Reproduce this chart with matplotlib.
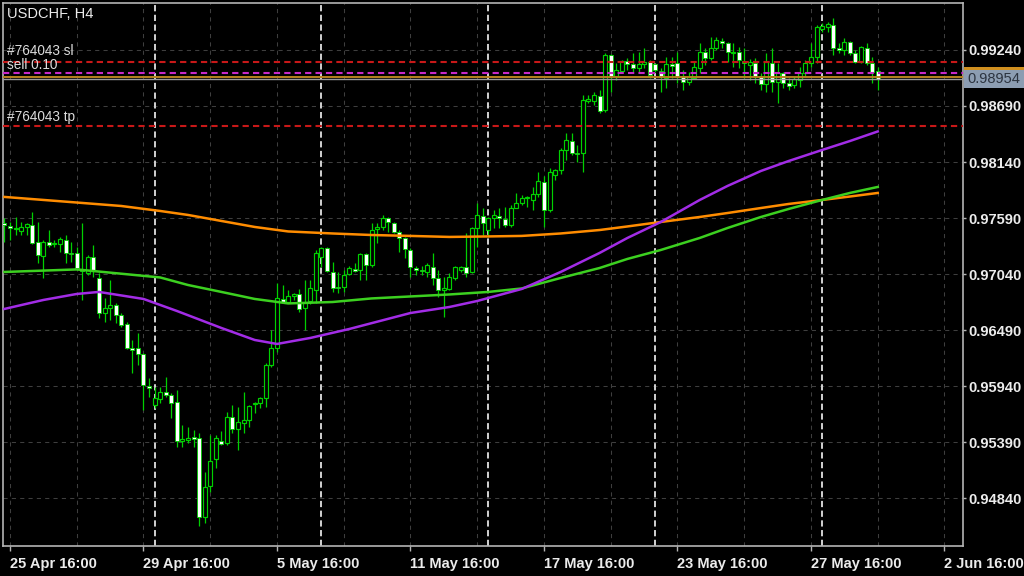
import matplotlib
matplotlib.use("Agg")
import matplotlib.pyplot as plt
import numpy as np
from matplotlib.patches import Rectangle

plt.rcParams['font.family'] = ['Liberation Sans', 'DejaVu Sans']

# USDCHF H4, bar 0 = 25 Apr 16:00, first visible candle is bar -1
first_bar = -1
opens = [0.97541, 0.97512, 0.97482, 0.97463, 0.97502, 0.97521, 0.97355, 0.97217, 0.97355, 0.97335,
         0.97335, 0.97374, 0.97247, 0.97247, 0.97089, 0.97050, 0.97207, 0.97001, 0.96657, 0.96706,
         0.96736, 0.96638, 0.96549, 0.96314, 0.96314, 0.96255, 0.95940, 0.95754, 0.95813, 0.95882,
         0.95852, 0.95783, 0.95400, 0.95410, 0.95440, 0.95430, 0.94654, 0.94958, 0.95224, 0.95400,
         0.95381, 0.95636, 0.95518, 0.95577, 0.95607, 0.95764, 0.95774, 0.95823, 0.96147, 0.96314,
         0.96795, 0.96765, 0.96824, 0.96844, 0.96706, 0.96775, 0.96883, 0.97207, 0.97296, 0.97060,
         0.96913, 0.96913, 0.97040, 0.97089, 0.97080, 0.97237, 0.97129, 0.97482, 0.97502, 0.97590,
         0.97541, 0.97453, 0.97394, 0.97276, 0.97099, 0.97080, 0.97060, 0.97109, 0.97001, 0.96883,
         0.96893, 0.97001, 0.97080, 0.97109, 0.97060, 0.97492, 0.97610, 0.97472, 0.97590, 0.97610,
         0.97580, 0.97521, 0.97688, 0.97738, 0.97787, 0.97767, 0.97826, 0.97944, 0.97669, 0.98012,
         0.98062, 0.98258, 0.98346, 0.98229, 0.98229, 0.98739, 0.98739, 0.98788, 0.98651, 0.99191,
         0.98985, 0.99034, 0.99132, 0.99103, 0.99063, 0.99103, 0.99122, 0.99103, 0.99034, 0.98965,
         0.99103, 0.99112, 0.98985, 0.98926, 0.98965, 0.99063, 0.99220, 0.99161, 0.99260, 0.99328,
         0.99309, 0.99211, 0.99220, 0.99132, 0.99093, 0.99112, 0.98975, 0.98906, 0.99112, 0.98926,
         0.99014, 0.98916, 0.98896, 0.98945, 0.99014, 0.99112, 0.99171, 0.99446, 0.99466, 0.99485,
         0.99260, 0.99240, 0.99319, 0.99211, 0.99122, 0.99260, 0.99112, 0.99034]
highs = [0.97590, 0.97551, 0.97600, 0.97551, 0.97541, 0.97649, 0.97551, 0.97374, 0.97472, 0.97374,
         0.97404, 0.97423, 0.97355, 0.97305, 0.97541, 0.97227, 0.97325, 0.97050, 0.96805, 0.96981,
         0.96756, 0.96657, 0.96569, 0.96392, 0.96461, 0.96265, 0.96019, 0.95931, 0.95931, 0.96029,
         0.95872, 0.95901, 0.95557, 0.95538, 0.95508, 0.95479, 0.95096, 0.95459, 0.95459, 0.95499,
         0.95685, 0.95754, 0.95734, 0.95882, 0.95754, 0.95783, 0.95832, 0.96166, 0.96490, 0.96952,
         0.96932, 0.96883, 0.96854, 0.96893, 0.96981, 0.96981, 0.97276, 0.97305, 0.97305, 0.97158,
         0.97060, 0.97080, 0.97119, 0.97148, 0.97247, 0.97247, 0.97541, 0.97541, 0.97620, 0.97600,
         0.97551, 0.97472, 0.97404, 0.97296, 0.97119, 0.97119, 0.97148, 0.97247, 0.97080, 0.97011,
         0.97050, 0.97119, 0.97119, 0.97443, 0.97502, 0.97738, 0.97688, 0.97600, 0.97669, 0.97688,
         0.97698, 0.97718, 0.97836, 0.97816, 0.97806, 0.97895, 0.98042, 0.98003, 0.98081, 0.98071,
         0.98278, 0.98425, 0.98425, 0.98307, 0.98798, 0.98798, 0.98828, 0.98847, 0.99211, 0.99201,
         0.99112, 0.99142, 0.99161, 0.99211, 0.99220, 0.99260, 0.99142, 0.99112, 0.99063, 0.99171,
         0.99171, 0.99220, 0.99044, 0.99024, 0.99122, 0.99309, 0.99260, 0.99368, 0.99368, 0.99358,
         0.99319, 0.99309, 0.99269, 0.99260, 0.99152, 0.99161, 0.99014, 0.99211, 0.99260, 0.99112,
         0.99024, 0.98965, 0.98975, 0.99073, 0.99142, 0.99309, 0.99485, 0.99505, 0.99515, 0.99554,
         0.99309, 0.99358, 0.99328, 0.99240, 0.99279, 0.99309, 0.99171, 0.99073]
lows = [0.97355, 0.97374, 0.97423, 0.97423, 0.97423, 0.97335, 0.97148, 0.97001, 0.97305, 0.97305,
        0.97256, 0.97148, 0.97158, 0.97080, 0.96785, 0.97030, 0.97011, 0.96608, 0.96569, 0.96589,
        0.96559, 0.96520, 0.96304, 0.96068, 0.96147, 0.95705, 0.95832, 0.95724, 0.95774, 0.95832,
        0.95626, 0.95341, 0.95341, 0.95381, 0.95341, 0.94566, 0.94595, 0.94900, 0.95135, 0.95361,
        0.95361, 0.95479, 0.95312, 0.95479, 0.95538, 0.95675, 0.95724, 0.95734, 0.96127, 0.96274,
        0.96756, 0.96756, 0.96785, 0.96667, 0.96490, 0.96746, 0.96756, 0.97109, 0.97060, 0.96864,
        0.96854, 0.96864, 0.97030, 0.97060, 0.96981, 0.96981, 0.97109, 0.97345, 0.97472, 0.97453,
        0.97443, 0.97256, 0.97197, 0.97011, 0.97030, 0.97030, 0.97011, 0.96932, 0.96814, 0.96618,
        0.96883, 0.96981, 0.97060, 0.97011, 0.97050, 0.97305, 0.97423, 0.97404, 0.97492, 0.97492,
        0.97502, 0.97502, 0.97688, 0.97718, 0.97698, 0.97669, 0.97796, 0.97502, 0.97649, 0.97963,
        0.98022, 0.98160, 0.98209, 0.98140, 0.98042, 0.98720, 0.98700, 0.98621, 0.98631, 0.98828,
        0.98945, 0.99024, 0.99044, 0.99024, 0.99024, 0.99063, 0.98965, 0.99024, 0.98828, 0.98867,
        0.98965, 0.98916, 0.98847, 0.98896, 0.98965, 0.99014, 0.99093, 0.99142, 0.99240, 0.99260,
        0.99122, 0.99073, 0.99063, 0.98965, 0.98945, 0.98916, 0.98847, 0.98828, 0.98828, 0.98720,
        0.98867, 0.98847, 0.98867, 0.98877, 0.98975, 0.99073, 0.99112, 0.99417, 0.99417, 0.99191,
        0.99211, 0.99191, 0.99191, 0.99112, 0.99112, 0.99093, 0.98916, 0.98847]
closes = [0.97521, 0.97492, 0.97492, 0.97502, 0.97531, 0.97345, 0.97227, 0.97355, 0.97325, 0.97345,
          0.97384, 0.97247, 0.97237, 0.97099, 0.97070, 0.97207, 0.97080, 0.96657, 0.96706, 0.96736,
          0.96638, 0.96539, 0.96314, 0.96294, 0.96255, 0.95950, 0.95921, 0.95823, 0.95882, 0.95852,
          0.95774, 0.95400, 0.95420, 0.95430, 0.95420, 0.94654, 0.94949, 0.95204, 0.95430, 0.95371,
          0.95636, 0.95518, 0.95587, 0.95607, 0.95744, 0.95774, 0.95823, 0.96147, 0.96314, 0.96805,
          0.96765, 0.96824, 0.96844, 0.96697, 0.96756, 0.96903, 0.97247, 0.97296, 0.97070, 0.96903,
          0.96903, 0.97030, 0.97099, 0.97070, 0.97237, 0.97129, 0.97472, 0.97502, 0.97590, 0.97551,
          0.97453, 0.97394, 0.97286, 0.97109, 0.97080, 0.97070, 0.97129, 0.97001, 0.96883, 0.96903,
          0.97011, 0.97109, 0.97109, 0.97050, 0.97492, 0.97620, 0.97541, 0.97590, 0.97620, 0.97590,
          0.97521, 0.97688, 0.97738, 0.97787, 0.97797, 0.97826, 0.97954, 0.97669, 0.98042, 0.98062,
          0.98258, 0.98356, 0.98229, 0.98219, 0.98749, 0.98759, 0.98798, 0.98641, 0.99191, 0.98985,
          0.99044, 0.99132, 0.99103, 0.99063, 0.99103, 0.99122, 0.98994, 0.99044, 0.98975, 0.99103,
          0.99083, 0.98975, 0.98926, 0.98975, 0.99073, 0.99220, 0.99161, 0.99260, 0.99338, 0.99309,
          0.99220, 0.99220, 0.99142, 0.99112, 0.99122, 0.98975, 0.98906, 0.99122, 0.98926, 0.99014,
          0.98916, 0.98886, 0.98955, 0.99014, 0.99112, 0.99171, 0.99466, 0.99476, 0.99495, 0.99260,
          0.99240, 0.99319, 0.99211, 0.99122, 0.99269, 0.99112, 0.99024, 0.98954]

# moving averages (bar index, price)
orange_bars = [-1, 12, 20, 27, 32, 38, 44, 50, 58, 65, 72, 79, 86, 92, 99, 106, 111, 117,
               124, 129, 135, 140, 146, 151, 156]
ma_orange = [0.97797, 0.97742, 0.97708, 0.97659, 0.97620, 0.97561, 0.97502, 0.97458, 0.97438,
             0.97423, 0.97414, 0.97404, 0.97409, 0.97414, 0.97438, 0.97472, 0.97507, 0.97551,
             0.97600, 0.97639, 0.97688, 0.97728, 0.97767, 0.97801, 0.97836]
green_bars = [-1, 12, 27, 32, 38, 44, 50, 58, 65, 79, 86, 92, 99, 106, 111, 117, 124, 129,
              135, 140, 146, 151, 156]
ma_green = [0.97060, 0.97085, 0.97006, 0.96932, 0.96864, 0.96795, 0.96751, 0.96765, 0.96800,
            0.96839, 0.96864, 0.96898, 0.97001, 0.97099, 0.97188, 0.97276, 0.97394, 0.97492,
            0.97600, 0.97679, 0.97767, 0.97836, 0.97895]
purple_bars = [-1, 6, 12, 16, 24, 30, 38, 44, 48, 54, 61, 72, 79, 84, 92, 99, 106, 111, 117,
               124, 129, 135, 140, 146, 151, 156]
ma_purple = [0.96697, 0.96785, 0.96844, 0.96864, 0.96795, 0.96677, 0.96510, 0.96392, 0.96353,
             0.96412, 0.96500, 0.96657, 0.96716, 0.96775, 0.96893, 0.97060, 0.97247, 0.97394,
             0.97551, 0.97767, 0.97905, 0.98052, 0.98150, 0.98258, 0.98346, 0.98440]

price_ticks = [0.99240, 0.98690, 0.98140, 0.97590, 0.97040, 0.96490, 0.95940, 0.95390, 0.94840]
time_bars = [0, 24, 48, 72, 96, 120, 144, 168]
time_labels = ['25 Apr 16:00', '29 Apr 16:00', '5 May 16:00', '11 May 16:00',
               '17 May 16:00', '23 May 16:00', '27 May 16:00', '2 Jun 16:00']
week_bars = [26, 56, 86, 116, 146]

sl_price = 0.99119
open_price = 0.99017
tp_price = 0.98497
bid = 0.98954
ask = 0.98970

GREEN = '#00d000'
FRAME = '#b4b4b4'
LABEL = '#ececec'

fig = plt.figure(figsize=(10.24, 5.76), dpi=100, facecolor='black')
ax = fig.add_axes([3 / 1024, 30 / 576, 960 / 1024, 543 / 576], facecolor='black')

o = np.array(opens)
h = np.array(highs)
l = np.array(lows)
c = np.array(closes)
x = np.arange(len(o)) + first_bar
up = c >= o
body_lo = np.minimum(o, c)
body_h = np.maximum(np.abs(c - o), 0.00002)

# grid + weekly separators
for p in price_ticks:
    ax.axhline(p, color='#3e3e3e', lw=0.75, ls=(0, (4, 4)), zorder=1)
for b in range(0, 169, 12):
    ax.axvline(b, color='#3e3e3e', lw=0.75, ls=(0, (4, 4)), zorder=1)
for b in week_bars:
    ax.axvline(b, color='#d2d2d2', lw=1.4, ls=(0, (3.2, 1.8)), zorder=2)

# candles
ax.vlines(x, l, h, color=GREEN, lw=0.9, zorder=3)
ax.bar(x[up], body_h[up], bottom=body_lo[up], width=0.72, facecolor='black',
       edgecolor=GREEN, lw=0.85, zorder=4)
ax.bar(x[~up], body_h[~up], bottom=body_lo[~up], width=0.72, facecolor='white',
       edgecolor=GREEN, lw=0.6, zorder=4)

# moving averages
ax.plot(orange_bars, ma_orange, color='#ff8c00', lw=1.8, zorder=5)
ax.plot(green_bars, ma_green, color='#3cd020', lw=1.8, zorder=5)
ax.plot(purple_bars, ma_purple, color='#a22ce6', lw=1.8, zorder=5)

# trade / price lines
ax.axhline(sl_price, color='#c81818', lw=1.5, ls=(0, (3, 2)), zorder=6)
ax.axhline(tp_price, color='#c81818', lw=1.5, ls=(0, (3, 2)), zorder=6)
ax.axhline(open_price, color='#c828c8', lw=1.5, ls=(0, (3, 2)), zorder=6)
ax.axhline(ask, color='#b8821e', lw=1.4, zorder=6)
ax.axhline(bid, color='#9a9a9a', lw=1.0, zorder=6)

ax.set_xlim(-1.258, 171.33)
ax.set_ylim(0.943686, 0.997016)

ytr = ax.get_yaxis_transform()
ax.text(0.004, 0.9797, 'USDCHF, H4', transform=ax.transAxes, color=LABEL,
        fontsize=10.5, va='center', ha='left', zorder=8)
for txt, p, dy in [('#764043 sl', sl_price, 8.0), ('sell 0.10', open_price, 5.6),
                   ('#764043 tp', tp_price, 6.2)]:
    ax.annotate(txt, xy=(0.004, p), xycoords=ytr, xytext=(0, dy), textcoords='offset points',
                color='#dcdcdc', fontsize=9.8, va='center', ha='left', zorder=8)

# current price box on the axis
ax.add_patch(Rectangle((1.0015, bid + 0.00088), 0.0625, 0.00028, transform=ytr,
                       facecolor='#d09020', edgecolor='none', clip_on=False, zorder=9))
ax.add_patch(Rectangle((1.0015, bid - 0.00088), 0.0625, 0.00176, transform=ytr,
                       facecolor='#8c9db2', edgecolor='none', clip_on=False, zorder=10))
ax.annotate(f'{bid:.5f}', xy=(1.0, bid), xycoords=ytr, xytext=(3.2, 0),
            textcoords='offset points', color='#2c3440', fontsize=10.5,
            va='center', ha='left', zorder=11, annotation_clip=False)

ax.yaxis.tick_right()
ax.set_yticks(price_ticks, labels=[f'{p:.5f}' for p in price_ticks])
ax.set_xticks(time_bars, labels=time_labels)
for t in ax.get_xticklabels():
    t.set_horizontalalignment('left')
    t.set_fontweight('bold')
for t in ax.get_yticklabels():
    t.set_fontweight('bold')
ax.tick_params(axis='y', length=2.5, width=1, color=FRAME, labelcolor=LABEL,
               labelsize=10.5, pad=1.5)
ax.tick_params(axis='x', length=3.5, width=1, color=FRAME, labelcolor=LABEL,
               labelsize=10.5, pad=4.5)
for s in ax.spines.values():
    s.set_color(FRAME)
    s.set_linewidth(1.2)

fig.savefig('out.png', dpi=100, facecolor='black')
